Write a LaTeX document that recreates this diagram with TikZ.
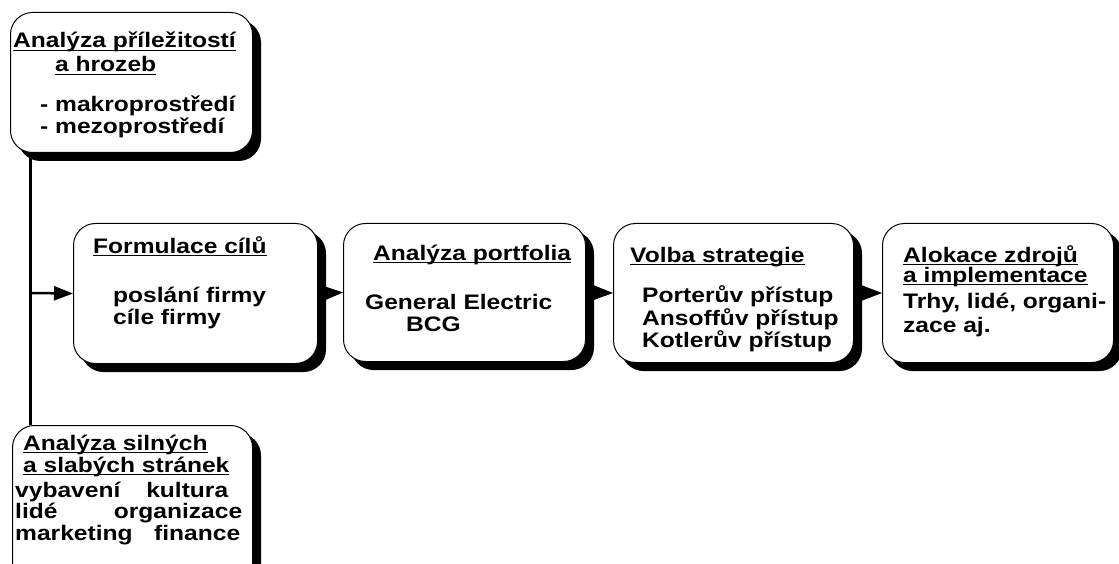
\documentclass[tikz,border=0pt]{standalone}
\usepackage{fontspec}
\newfontfamily\af{Liberation Sans}[FakeStretch=1.17]
\usetikzlibrary{shadows,arrows.meta}
\newcommand\myul[1]{\leavevmode\setbox0\hbox{#1}\rlap{\rule[-3pt]{\wd0}{1.2pt}}\box0}
\begin{document}
\begin{tikzpicture}[x=1pt,y=-1pt,
 box/.style={draw=black, line width=1pt, fill=white, rounded corners=22pt, anchor=north west,
   copy shadow={shadow xshift=8pt, shadow yshift=-8pt, fill=black, draw=black}},
 txt/.style={anchor=base west, inner sep=0pt, font=\af\bfseries\fontsize{21}{22}\selectfont},
 conn/.style={line width=3pt},
 mainarrow/.style={line width=2.5pt, -{Triangle[length=19pt,width=14pt]}},
 tiparrow/.style={line width=1pt, -{Triangle[length=20pt,width=15pt]}},
]
\useasboundingbox (0,0) rectangle (1119,564);
\clip (0,0) rectangle (1119,564);

\coordinate (j) at (30,293);

% boxes
\node[box, minimum width=242pt, minimum height=140pt] (top) at (10,12) {};
\node[box, minimum width=240pt, minimum height=170pt] (bot) at (12,425) {};
\node[box, minimum width=244pt, minimum height=140pt] (form) at (73,223) {};
\node[box, minimum width=242pt, minimum height=138pt] (port) at (343,223) {};
\node[box, minimum width=240pt, minimum height=139pt] (volba) at (613,223) {};
\node[box, minimum width=231pt, minimum height=139pt] (alok) at (882,223) {};

\draw[conn] (j |- top.south) -- (j |- bot.north);
\draw[mainarrow] (j) -- (form.west);
\draw[tiparrow] (form.east) -- (port.west);
\draw[tiparrow] (port.east) -- (volba.west);
\draw[tiparrow] (volba.east) -- (alok.west);

% texts: top box
\node[txt] (t1) at (13,48) {\myul{Analýza příležitostí}};
\node[txt] (t2) at (55,72) {\myul{a hrozeb}};
\node[txt] (t3) at (40,112) {- makroprostředí};
\node[txt] (t4) at (40,134) {- mezoprostředí};

% formulace
\node[txt] (f1) at (93,253) {\myul{Formulace cílů}};
\node[txt] (f2) at (113,302) {poslání firmy};
\node[txt] (f3) at (113,324) {cíle firmy};

% portfolio
\node[txt] (p1) at (373,260) {\myul{Analýza portfolia}};
\node[txt] (p2) at (365,309) {General Electric};
\node[txt] (p3) at (406,331) {BCG};

% volba
\node[txt] (v1) at (630,262) {\myul{Volba strategie}};
\node[txt] (v2) at (642,302) {Porterův přístup};
\node[txt] (v3) at (642,325) {Ansoffův přístup};
\node[txt] (v4) at (642,347) {Kotlerův přístup};

% alokace
\node[txt] (a1) at (903,262) {\myul{Alokace zdrojů}};
\node[txt] (a2) at (903,282) {\myul{a implementace}};
\node[txt] (a3) at (903,308) {Trhy, lidé, organi-};
\node[txt] (a4) at (903,332) {zace aj.};

% bottom
\node[txt] (b1) at (23,450) {\myul{Analýza silných}};
\node[txt] (b2) at (23,472) {\myul{a slabých stránek}};
\node[txt] (b3) at (15,497) {\hbox to 213pt{vybavení\hfill kultura}};
\node[txt] (b4) at (15,518) {\hbox to 227pt{lidé\hfill organizace}};
\node[txt] (b5) at (15,540) {\hbox to 225pt{marketing\hfill finance}};
\end{tikzpicture}
\end{document}
